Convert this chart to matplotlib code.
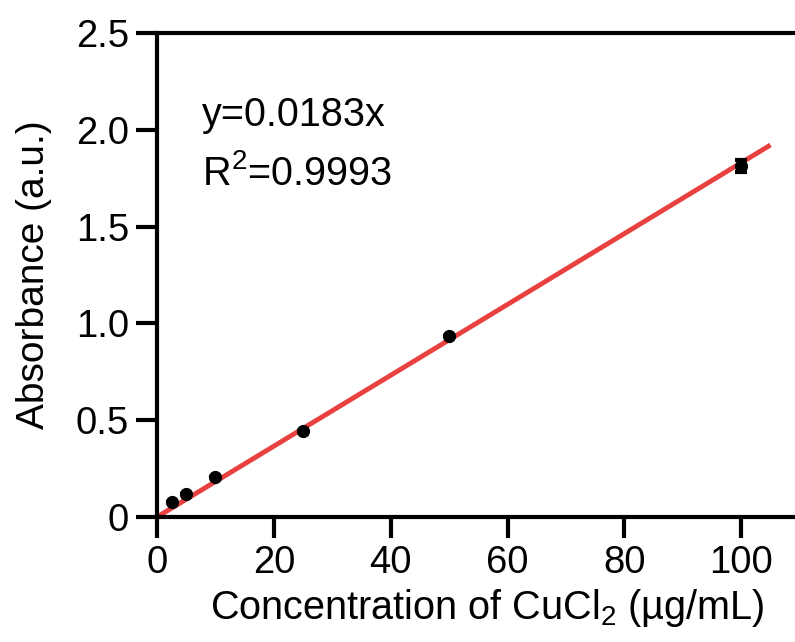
import matplotlib
matplotlib.use("Agg")
import matplotlib.pyplot as plt
import numpy as np

# measured standards
conc = [2.5, 5, 10, 25, 50, 100]
absorb = [0.078, 0.121, 0.205, 0.442, 0.935, 1.812]
absorb_sd = [0.0, 0.0, 0.0, 0.0, 0.0, 0.03]

slope = 0.0183
fit_x = [0, 105]

plt.rcParams['font.family'] = ['Liberation Sans', 'DejaVu Sans']
plt.rcParams['mathtext.fontset'] = 'custom'
plt.rcParams['mathtext.rm'] = 'Liberation Sans'
plt.rcParams['mathtext.it'] = 'Liberation Sans'

fig = plt.figure(figsize=(7.95, 6.42), dpi=100)
ax = fig.add_axes([0.1975, 0.1947, 0.8525, 0.9486 - 0.1947])

fx = np.array(fit_x)
ax.plot(fx, slope * fx, color='#e8413f', lw=3.5, zorder=2, solid_capstyle='butt')
ax.errorbar(conc, absorb, yerr=absorb_sd, fmt='o', color='black', ms=8.5,
            elinewidth=3, capsize=4, capthick=3, zorder=3)

ax.set_xlim(0, 116)
ax.set_ylim(0, 2.5)
ax.set_xticks([0, 20, 40, 60, 80, 100])
ax.set_yticks([0, 0.5, 1.0, 1.5, 2.0, 2.5])
ax.set_yticklabels(['0', '0.5', '1.0', '1.5', '2.0', '2.5'])

for s in ['left', 'bottom', 'top']:
    ax.spines[s].set_linewidth(3)
ax.spines['right'].set_visible(False)
ax.tick_params(width=3, length=15, labelsize=27.5, pad=5)

ax.set_xlabel('Concentration of CuCl$_2$ (µg/mL)', fontsize=28.5)
ax.set_ylabel('Absorbance (a.u.)', fontsize=28)
ax.xaxis.set_label_coords(0.487, -0.145)
ax.yaxis.set_label_coords(-0.155, 0.5)

ax.text(7.7, 2.02, 'y=0.0183x', fontsize=28.5, va='baseline')
ax.text(7.7, 1.715, 'R$^2$=0.9993', fontsize=28.5, va='baseline')

fig.savefig('out.png', dpi=100)
